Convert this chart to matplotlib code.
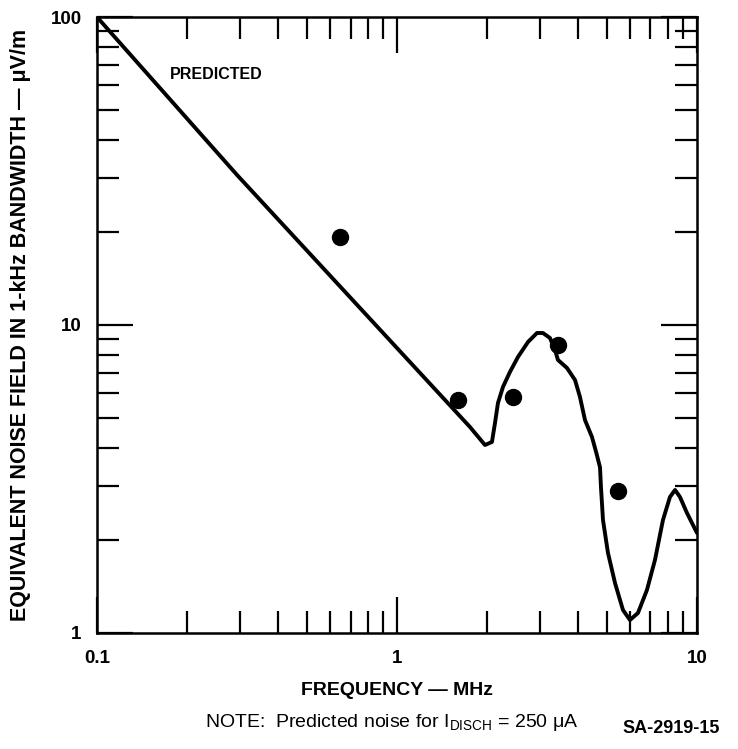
import numpy as np
import matplotlib.pyplot as plt
from matplotlib.ticker import LogLocator, FixedFormatter, FixedLocator, NullFormatter

plt.rcParams['font.family'] = ['Liberation Sans', 'DejaVu Sans']

# predicted noise curve (MHz, uV/m)
pred_freq = [0.1, 0.293, 1.751, 1.965, 2.073, 2.122, 2.171, 2.256, 2.380,
             2.531, 2.734, 2.929, 3.066, 3.236, 3.363, 3.441, 3.687, 3.922,
             4.074, 4.233, 4.467, 4.620, 4.751, 4.786, 4.861, 5.051, 5.331,
             5.666, 5.979, 6.357, 6.812, 7.244, 7.703, 8.128, 8.452, 8.777,
             9.261, 10.0]
pred_noise = [100, 30.7, 4.665, 4.077, 4.171, 4.806, 5.582, 6.292, 7.039,
              7.873, 8.808, 9.419, 9.419, 9.075, 8.294, 7.700, 7.252, 6.628,
              5.837, 4.916, 4.329, 3.840, 3.450, 2.979, 2.327, 1.819, 1.453,
              1.188, 1.102, 1.161, 1.379, 1.726, 2.327, 2.764, 2.913, 2.764,
              2.453, 2.113]

# measured points
meas_freq = [0.646, 1.60, 2.44, 3.44, 5.45]
meas_noise = [19.3, 5.72, 5.83, 8.6, 2.89]

fig = plt.figure(figsize=(7.38, 7.49), dpi=100)
ax = fig.add_axes([0.1314, 0.1549, 0.813, 0.8224])

ax.plot(pred_freq, pred_noise, color='black', lw=2.8,
        solid_joinstyle='round', solid_capstyle='round')
ax.plot(meas_freq, meas_noise, 'o', color='black', ms=11.5)

ax.set_xscale('log')
ax.set_yscale('log')
ax.set_xlim(0.1, 10)
ax.set_ylim(1, 100)

ax.xaxis.set_major_locator(FixedLocator([0.1, 1, 10]))
ax.xaxis.set_major_formatter(FixedFormatter(['0.1', '1', '10']))
ax.yaxis.set_major_locator(FixedLocator([1, 10, 100]))
ax.yaxis.set_major_formatter(FixedFormatter(['1', '10', '100']))
for a in (ax.xaxis, ax.yaxis):
    a.set_minor_locator(LogLocator(base=10, subs=np.arange(2, 10)))
    a.set_minor_formatter(NullFormatter())

ax.tick_params(which='both', direction='in', top=True, right=True,
               width=1.6, labelsize=13.5)
ax.tick_params(which='major', length=26)
ax.tick_params(which='minor', length=16)
ax.tick_params(axis='x', pad=12)
ax.tick_params(axis='y', pad=11)
for lbl in ax.get_xticklabels() + ax.get_yticklabels():
    lbl.set_fontweight('bold')
for s in ax.spines.values():
    s.set_linewidth(1.8)

ax.text(0.175, 63, 'PREDICTED', fontsize=11.5, fontweight='bold')

ax.set_xlabel('FREQUENCY \u2014 MHz', fontsize=14, fontweight='bold',
              labelpad=11)
ax.set_ylabel('EQUIVALENT NOISE FIELD IN 1-kHz BANDWIDTH \u2014 \u03bcV/m',
              fontsize=15.5, fontweight='bold', labelpad=14)

fig.text(0.278, 0.030,
         'NOTE:  Predicted noise for I$_{\\mathregular{DISCH}}$ = 250 \u03bcA',
         fontsize=14)
fig.text(0.843, 0.021, 'SA-2919-15', fontsize=13, fontweight='bold')

fig.savefig('out.png', dpi=100)
